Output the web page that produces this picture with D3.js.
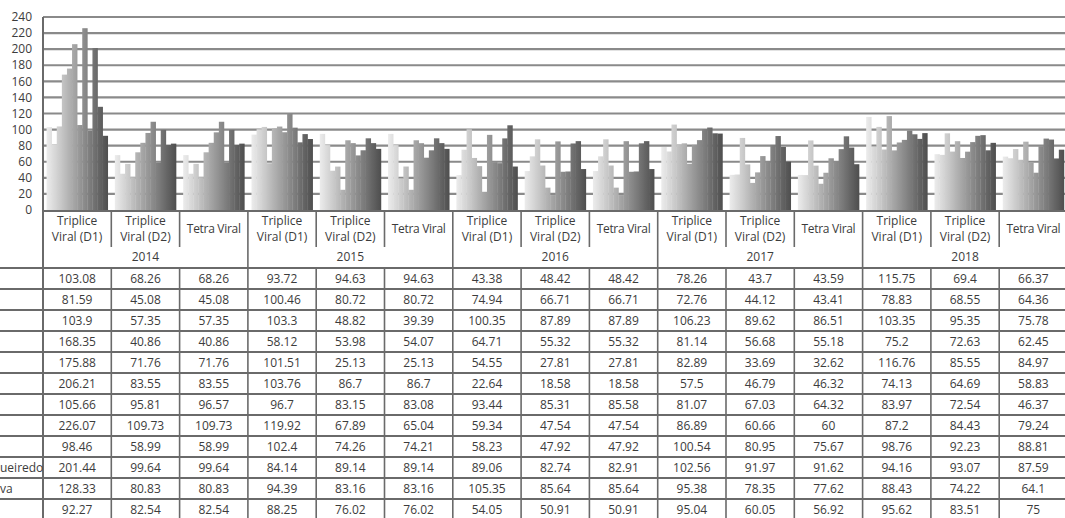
<!DOCTYPE html>
<html>
<head>
<meta charset="utf-8">
<script src="https://cdn.jsdelivr.net/npm/d3@7"></script>
<style>
  body { margin: 0; background: #fff; }
  text { font-family: "Open Sans", sans-serif; fill: #3c3c3c; font-size: 12px; }
</style>
</head>
<body>
<svg id="chart" width="1065" height="518"></svg>
<script>
// categories (two levels) and axis ticks
const years = ['2014', '2015', '2016', '2017', '2018'];
const vaccines = [['Triplice', 'Viral (D1)'], ['Triplice', 'Viral (D2)'], ['Tetra Viral']];
const yTicks = [0, 20, 40, 60, 80, 100, 120, 140, 160, 180, 200, 220, 240];

// row labels of the data table (only the ends are inside the picture)
const rowLabels = ['', '', '', '', '', '', '', '', '', 'ueiredo', 'va', ''];

// one array per series, 15 values: 2014 D1, D2, Tetra ... 2018 D1, D2, Tetra
const row01 = [103.08, 68.26, 68.26, 93.72, 94.63, 94.63, 43.38, 48.42, 48.42, 78.26, 43.7, 43.59, 115.75, 69.4, 66.37];
const row02 = [81.59, 45.08, 45.08, 100.46, 80.72, 80.72, 74.94, 66.71, 66.71, 72.76, 44.12, 43.41, 78.83, 68.55, 64.36];
const row03 = [103.9, 57.35, 57.35, 103.3, 48.82, 39.39, 100.35, 87.89, 87.89, 106.23, 89.62, 86.51, 103.35, 95.35, 75.78];
const row04 = [168.35, 40.86, 40.86, 58.12, 53.98, 54.07, 64.71, 55.32, 55.32, 81.14, 56.68, 55.18, 75.2, 72.63, 62.45];
const row05 = [175.88, 71.76, 71.76, 101.51, 25.13, 25.13, 54.55, 27.81, 27.81, 82.89, 33.69, 32.62, 116.76, 85.55, 84.97];
const row06 = [206.21, 83.55, 83.55, 103.76, 86.7, 86.7, 22.64, 18.58, 18.58, 57.5, 46.79, 46.32, 74.13, 64.69, 58.83];
const row07 = [105.66, 95.81, 96.57, 96.7, 83.15, 83.08, 93.44, 85.31, 85.58, 81.07, 67.03, 64.32, 83.97, 72.54, 46.37];
const row08 = [226.07, 109.73, 109.73, 119.92, 67.89, 65.04, 59.34, 47.54, 47.54, 86.89, 60.66, 60, 87.2, 84.43, 79.24];
const row09 = [98.46, 58.99, 58.99, 102.4, 74.26, 74.21, 58.23, 47.92, 47.92, 100.54, 80.95, 75.67, 98.76, 92.23, 88.81];
const row10 = [201.44, 99.64, 99.64, 84.14, 89.14, 89.14, 89.06, 82.74, 82.91, 102.56, 91.97, 91.62, 94.16, 93.07, 87.59];
const row11 = [128.33, 80.83, 80.83, 94.39, 83.16, 83.16, 105.35, 85.64, 85.64, 95.38, 78.35, 77.62, 88.43, 74.22, 64.1];
const row12 = [92.27, 82.54, 82.54, 88.25, 76.02, 76.02, 54.05, 50.91, 50.91, 95.04, 60.05, 56.92, 95.62, 83.51, 75];

const rows = [row01, row02, row03, row04, row05, row06, row07, row08, row09, row10, row11, row12];

const categories = [];
years.forEach(y => vaccines.forEach(v => categories.push({ year: y, lines: v })));

const svg = d3.select('#chart');
const W = 1065;
const left = 43, colW = 68.3;
const headTop = 211, catBottom = 247, headBottom = 268, rowH = 21;

const x = d3.scaleBand().domain(d3.range(categories.length)).range([left, left + categories.length * colW]);
const xs = d3.scaleBand().domain(d3.range(rows.length)).range([0, x.bandwidth()]).paddingOuter(0.7);
const y = d3.scaleLinear().domain([0, 240]).range([210, 17]);

// grey shades, light series first
const shade = d3.scaleLinear().domain([0, 1]).range(['#ececec', '#4e4e4e']);
const defs = svg.append('defs');
rows.forEach((r, i) => {
  const g = defs.append('linearGradient').attr('id', 'g' + i).attr('x1', 0).attr('x2', 1).attr('y1', 0).attr('y2', 0);
  g.append('stop').attr('offset', 0).attr('stop-color', shade(i / rows.length));
  g.append('stop').attr('offset', 1).attr('stop-color', shade((i + 1) / rows.length));
});

// gridlines
svg.append('g').selectAll('line').data(yTicks.slice(1)).join('line')
  .attr('x1', left).attr('x2', W)
  .attr('y1', d => y(d)).attr('y2', d => y(d))
  .attr('stroke', '#8a8a8a').attr('stroke-width', 2.2);

// y labels
svg.append('g').selectAll('text').data(yTicks).join('text')
  .attr('x', 32).attr('y', d => y(d)).attr('dy', '0.35em')
  .attr('text-anchor', 'end').text(d => d);

// bars
rows.forEach((r, i) => {
  svg.append('g').attr('fill', `url(#g${i})`)
    .selectAll('rect').data(r).join('rect')
    .attr('x', (d, j) => x(j) + xs(i))
    .attr('width', xs.bandwidth() + 0.3)
    .attr('y', d => y(d))
    .attr('height', d => y(0) - y(d));
});

// axis lines
svg.append('line').attr('x1', left).attr('x2', left).attr('y1', 17).attr('y2', 518)
  .attr('stroke', '#6a6a6a').attr('stroke-width', 2);
svg.append('line').attr('x1', left).attr('x2', W).attr('y1', headTop).attr('y2', headTop)
  .attr('stroke', '#6a6a6a').attr('stroke-width', 2);

// header: category labels
const head = svg.append('g');
categories.forEach((c, j) => {
  const cx = x(j) + x.bandwidth() / 2;
  const t = head.append('text').attr('text-anchor', 'middle');
  if (c.lines.length === 2) {
    t.append('tspan').attr('x', cx).attr('y', 225).text(c.lines[0]);
    t.append('tspan').attr('x', cx).attr('y', 241).text(c.lines[1]);
  } else {
    t.append('tspan').attr('x', cx).attr('y', 233).text(c.lines[0]).attr('letter-spacing', '-0.3');
  }
  // separators: short inside a year, full between years
  const xr = x(j) + x.bandwidth();
  const yearEnd = (j + 1) % vaccines.length === 0;
  head.append('line').attr('x1', xr).attr('x2', xr)
    .attr('y1', headTop).attr('y2', yearEnd ? 518 : catBottom)
    .attr('stroke', '#6a6a6a').attr('stroke-width', 1.6);
  if (!yearEnd) {
    head.append('line').attr('x1', xr).attr('x2', xr)
      .attr('y1', headBottom).attr('y2', 518)
      .attr('stroke', '#6a6a6a').attr('stroke-width', 1.6);
  }
});

// header: years
years.forEach((yr, k) => {
  const mid = x(k * vaccines.length + 1) + x.bandwidth() / 2;
  head.append('text').attr('x', mid).attr('y', 261).attr('text-anchor', 'middle').text(yr);
});

// table rows
const table = svg.append('g');
table.selectAll('line').data(d3.range(rows.length + 1)).join('line')
  .attr('x1', 0).attr('x2', W)
  .attr('y1', d => headBottom + d * rowH).attr('y2', d => headBottom + d * rowH)
  .attr('stroke', '#6a6a6a').attr('stroke-width', 2);

rows.forEach((r, i) => {
  const cy = headBottom + i * rowH + rowH / 2;
  table.append('text').attr('x', 0).attr('y', cy).attr('dy', '0.35em').text(rowLabels[i]);
  table.append('g').selectAll('text').data(r).join('text')
    .attr('x', (d, j) => x(j) + x.bandwidth() / 2)
    .attr('y', cy).attr('dy', '0.35em')
    .attr('text-anchor', 'middle')
    .text(d => d);
});
</script>
</body>
</html>
